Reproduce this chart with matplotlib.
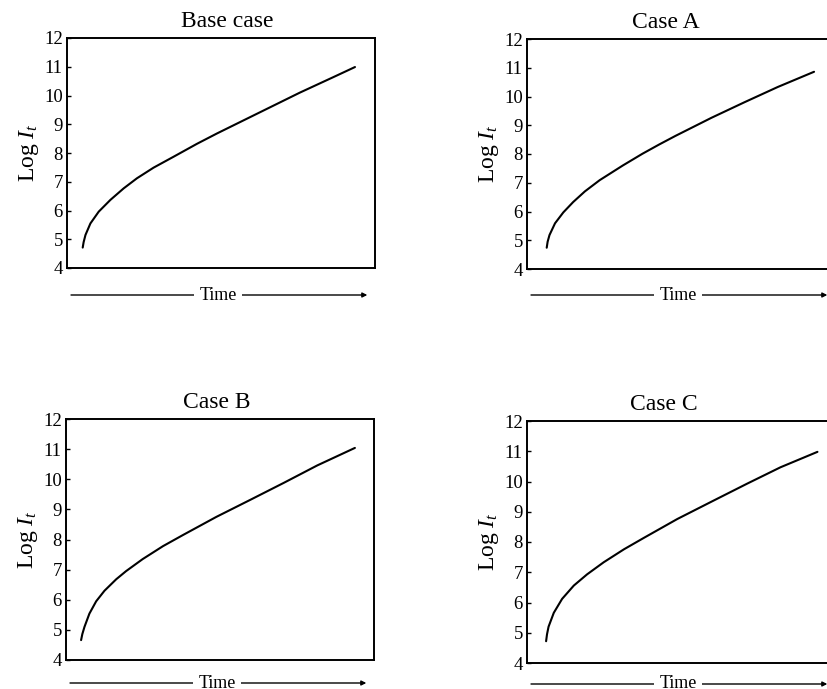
"""Four panels of log I_t against time: base case and cases A, B, C."""

import matplotlib

matplotlib.use("Agg")
import matplotlib.pyplot as plt

plt.rcParams["font.family"] = ["Liberation Serif", "DejaVu Serif"]
plt.rcParams["mathtext.fontset"] = "custom"
plt.rcParams["mathtext.rm"] = "Liberation Serif"
plt.rcParams["mathtext.it"] = "Liberation Serif:italic"

# values (time in arbitrary units, 0-100 across the axes)
base_time = [5.1, 5.4, 6.0, 7.6, 10.3, 14.1, 18.4, 22.7, 28.1, 34.6, 42.2, 48.7, 54.0, 64.8, 75.6, 86.5, 93.5]
base_log_i = [4.71, 4.90, 5.15, 5.55, 5.96, 6.37, 6.77, 7.12, 7.49, 7.87, 8.32, 8.68, 8.96, 9.53, 10.10, 10.64, 10.99]

case_a_time = [6.4, 6.7, 7.3, 9.1, 11.8, 15.0, 18.8, 23.6, 31.1, 37.5, 42.9, 48.2, 59.9, 70.6, 81.4, 93.2]
case_a_log_i = [4.74, 4.95, 5.18, 5.59, 5.97, 6.33, 6.70, 7.09, 7.60, 8.01, 8.33, 8.63, 9.26, 9.80, 10.33, 10.86]

case_b_time = [4.9, 5.3, 6.0, 7.6, 9.8, 12.5, 16.3, 19.5, 24.9, 31.5, 38.0, 43.4, 48.8, 59.9, 70.7, 81.6, 93.8]
case_b_log_i = [4.66, 4.86, 5.10, 5.54, 5.95, 6.30, 6.68, 6.95, 7.35, 7.78, 8.15, 8.45, 8.75, 9.32, 9.88, 10.46, 11.04]

case_c_time = [6.2, 6.5, 7.0, 8.7, 11.4, 15.2, 19.5, 24.9, 31.5, 38.0, 43.4, 48.8, 60.6, 71.5, 82.3, 94.3]
case_c_log_i = [4.72, 4.95, 5.20, 5.66, 6.12, 6.56, 6.93, 7.33, 7.76, 8.14, 8.45, 8.76, 9.37, 9.93, 10.47, 10.98]

titles = ["Base case", "Case A", "Case B", "Case C"]
y_ticks = [4, 5, 6, 7, 8, 9, 10, 11, 12]

W, H = 828, 689
# axes boxes in pixels: left, bottom-from-top, width, height
boxes = [(67, 268, 308, 230), (527, 269, 308, 230), (66, 660, 308, 241), (527, 663, 308, 242)]
title_x = [0.52, 0.45, 0.49, 0.445]
arrow_gap = [27, 26, 23, 21]

fig = plt.figure(figsize=(W / 100, H / 100), dpi=100)
series = [
    (base_time, base_log_i),
    (case_a_time, case_a_log_i),
    (case_b_time, case_b_log_i),
    (case_c_time, case_c_log_i),
]

for (left, bottom, width, height), title, tx, gap, (t, v) in zip(
    boxes, titles, title_x, arrow_gap, series
):
    ax = fig.add_axes([left / W, 1 - bottom / H, width / W, height / H])
    ax.plot(t, v, color="black", lw=1.5, solid_capstyle="round", solid_joinstyle="round")
    ax.set_xlim(0, 100)
    ax.set_ylim(4, 12)
    ax.set_yticks(y_ticks)
    ax.set_xticks([])
    ax.tick_params(axis="y", direction="in", length=3, width=1, labelsize=13.5, pad=3)
    for spine in ax.spines.values():
        spine.set_linewidth(1.4)
    ax.set_title(title, fontsize=17, x=tx, pad=8)
    ax.set_ylabel(r"Log $I_t$", fontsize=17, labelpad=2)

    y = -gap / height
    ax.annotate(
        "",
        xy=(0.975, y),
        xytext=(0.013, y),
        xycoords="axes fraction",
        textcoords="axes fraction",
        annotation_clip=False,
        arrowprops=dict(arrowstyle="-|>", color="black", lw=1.0, mutation_scale=7,
                        shrinkA=0, shrinkB=0),
    )
    ax.text(0.49, y, "Time", transform=ax.transAxes, ha="center", va="center",
            fontsize=13, bbox=dict(fc="white", ec="none", pad=4))

fig.savefig("out.png", dpi=100, facecolor="white")
